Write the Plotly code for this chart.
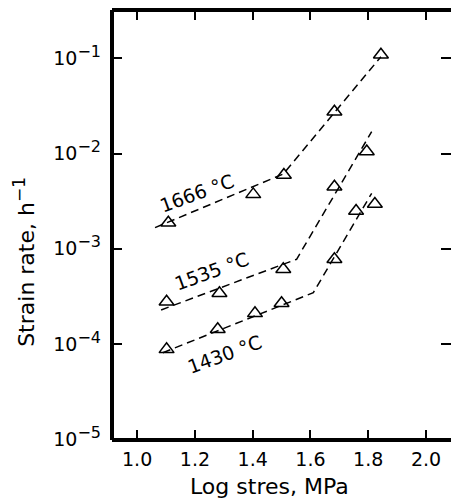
import plotly.graph_objects as go

# ---- data ----
log_stress_1666 = [1.108, 1.402, 1.508, 1.683, 1.844]
rate_1666 = [1.88e-3, 3.73e-3, 5.96e-3, 2.75e-2, 1.09e-1]
fit_x_1666 = [1.062, 1.506, 1.844]
fit_y_1666 = [1.67e-3, 6.11e-3, 1.04e-1]

log_stress_1535 = [1.102, 1.285, 1.506, 1.683, 1.795]
rate_1535 = [2.78e-4, 3.41e-4, 6.09e-4, 4.49e-3, 1.05e-2]
fit_x_1535 = [1.083, 1.552, 1.812]
fit_y_1535 = [2.28e-4, 7.76e-4, 1.70e-2]

log_stress_1430 = [1.102, 1.279, 1.408, 1.500, 1.683, 1.758, 1.823]
rate_1430 = [8.79e-5, 1.43e-4, 2.10e-4, 2.68e-4, 7.76e-4, 2.49e-3, 2.96e-3]
fit_x_1430 = [1.089, 1.610, 1.812]
fit_y_1430 = [8.11e-5, 3.46e-4, 3.83e-3]

series_labels = ["1666 °C", "1535 °C", "1430 °C"]
label_x = [1.206, 1.258, 1.304]
label_logy = [-2.409, -3.231, -4.105]

x_ticks = [1.0, 1.2, 1.4, 1.6, 1.8, 2.0]
x_ticktext = ["1.0", "1.2", "1.4", "1.6", "1.8", "2.0"]
y_ticks = [1e-5, 1e-4, 1e-3, 1e-2, 1e-1]
y_exponents = ["−5", "−4", "−3", "−2", "−1"]
y_ticktext = ["10<sup><span style='font-size:16px'>%s</span></sup>" % e for e in y_exponents]

FONT = "DejaVu Sans, Liberation Sans, Arial, sans-serif"

fig = go.Figure()
for fx, fy in [(fit_x_1666, fit_y_1666), (fit_x_1535, fit_y_1535), (fit_x_1430, fit_y_1430)]:
    fig.add_trace(go.Scatter(x=fx, y=fy, mode="lines",
                             line=dict(color="black", width=1.5, dash="8px,5px"),
                             showlegend=False, hoverinfo="skip"))
for px, py in [(log_stress_1666, rate_1666), (log_stress_1535, rate_1535), (log_stress_1430, rate_1430)]:
    fig.add_trace(go.Scatter(x=px, y=py, mode="markers",
                             marker=dict(symbol="triangle-up-open", size=13, color="black",
                                         line=dict(width=1.5, color="black")),
                             showlegend=False))

for txt, lx, ly in zip(series_labels, label_x, label_logy):
    fig.add_annotation(x=lx, y=ly, xref="x", yref="y", text=txt, showarrow=False,
                       textangle=-20, xanchor="center", yanchor="middle",
                       font=dict(family=FONT, size=19, color="black"))

# axis titles
fig.add_annotation(x=0.466, y=-0.107, xref="paper", yref="paper", text="Log stres, MPa",
                   showarrow=False, xanchor="center", yanchor="middle",
                   font=dict(family=FONT, size=22, color="black"))
fig.add_annotation(x=-0.26, y=0.414, xref="paper", yref="paper",
                   text="Strain rate, h<sup><span style='font-size:17px'>−1</span></sup>",
                   showarrow=False, xanchor="center", yanchor="middle", textangle=-90,
                   font=dict(family=FONT, size=22, color="black"))

# frame lines (left, bottom, top)
for x0, y0, x1, y1 in [(0, 0, 0, 1), (0, 0, 1, 0), (0, 1, 1, 1)]:
    fig.add_shape(type="line", xref="paper", yref="paper", x0=x0, y0=y0, x1=x1, y1=y1,
                  line=dict(color="black", width=4))

fig.update_layout(
    width=451, height=499,
    margin=dict(l=112, r=0, t=10, b=59),
    plot_bgcolor="white", paper_bgcolor="white",
    showlegend=False,
    font=dict(family=FONT, color="black"),
)
fig.update_xaxes(range=[0.913, 2.0866], showgrid=False, zeroline=False, showline=False,
                 ticks="inside", ticklen=10, tickwidth=2, tickcolor="black", mirror="ticks",
                 tickvals=x_ticks, ticktext=x_ticktext, ticklabelstandoff=6,
                 tickfont=dict(family=FONT, size=19, color="black"))
fig.update_yaxes(type="log", range=[-5.008, -0.492], showgrid=False, zeroline=False, showline=False,
                 ticks="inside", ticklen=10, tickwidth=2, tickcolor="black", mirror="ticks",
                 tickvals=y_ticks, ticktext=y_ticktext, ticklabelstandoff=10,
                 tickfont=dict(family=FONT, size=19, color="black"))

fig.write_html("out.html", config={"displayModeBar": False},
               post_script="document.body.style.margin='0';document.body.style.overflow='hidden';")
